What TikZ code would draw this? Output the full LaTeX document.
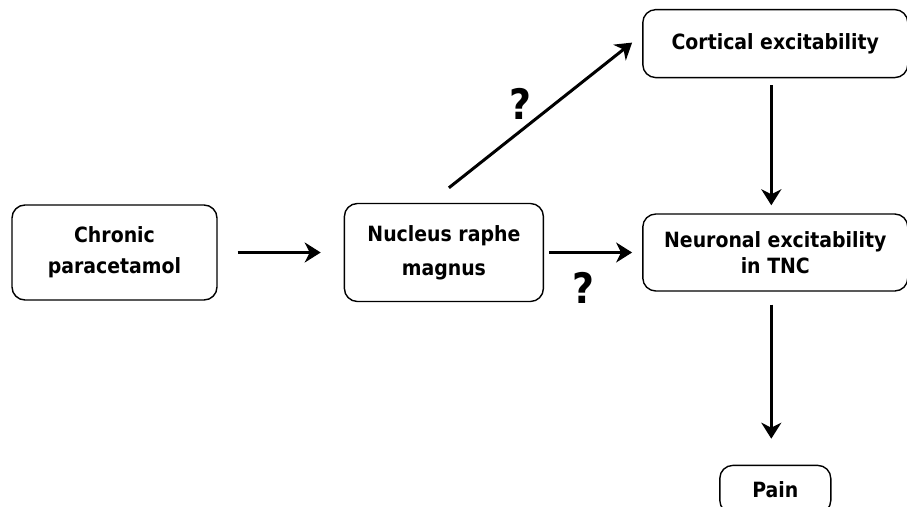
\documentclass[tikz,border=0pt]{standalone}
\usepackage{fontspec}
\setmainfont{DejaVu Sans Condensed}
\usepackage{tikz}
\usetikzlibrary{
        arrows.meta,
        positioning,
        shapes
    }
\tikzset{>={Stealth[length=16pt,width=20pt,inset=5pt]},auto,node distance=2cm}
\tikzset{
    box/.style={draw,line width=1.4pt,rounded corners=13pt,align=center,
        inner sep=0pt,font=\bfseries\fontsize{21}{26}\selectfont},
    flow/.style={->,line width=3pt},
    qmark/.style={font=\bfseries\fontsize{42}{42}\selectfont,inner sep=0pt}
}

\begin{document}
\begin{tikzpicture}[x=1pt,y=-1pt]
                \useasboundingbox (0,0) rectangle (907,506);
                \node[box,minimum width=205pt,minimum height=95pt] (chron) at (114.5,252.5)
                    {Chronic\\[5pt]paracetamol};
                \node[box,minimum width=199pt,minimum height=98pt] (nrm) [right=126pt of chron]
                    {Nucleus raphe\\[8pt]magnus};
                \node[box,minimum width=265pt,minimum height=77pt] (neur) [right=98pt of nrm]
                    {Neuronal excitability\\in TNC};
                \node[box,minimum width=265pt,minimum height=68pt] (cort) [above=135pt of neur]
                    {Cortical excitability};
                \node[box,minimum width=111pt,minimum height=48pt] (pain) [below=173pt of neur]
                    {Pain};
    %			\node[qmark] at (517,107) {?};
            \path[flow]
                    (chron) edge [shorten <=20pt,shorten >=23pt] (nrm)
                    (nrm)   edge [shorten <=5pt,shorten >=10pt]
                                 node [qmark,swap,pos=0.4,below=18pt] {?} (neur)
                    ([xshift=-4pt]cort.south) edge [shorten <=7pt,shorten >=8pt] ([xshift=-4pt]neur.north)
                    ([xshift=-4pt]neur.south) edge [shorten <=13pt,shorten >=26pt] ([xshift=-4pt]pain.north)
                    ([shift={(5,-15)}]nrm.north) edge
                                 node [qmark,pos=0.46,above left=0pt] {?} ([shift={(-10,-1)}]cort.west);
            \end{tikzpicture}
\end{document}
